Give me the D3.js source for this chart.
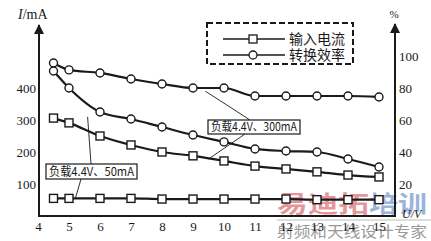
<!DOCTYPE html>
<html><head><meta charset="utf-8">
<script src="https://cdn.jsdelivr.net/npm/d3@7/dist/d3.min.js"></script>
<style>body{margin:0;background:#fff}svg{display:block}</style>
</head><body>
<script>
const voltages = [4.5,5,6,7,8,9,10,11,12,13,14,15];
const current300 = [306,291,250,222,200,188,172,156,147,138,128,122];
const current50  = [55,55,55,55,53,53,53,53,53,51,51,51];
const eff300 = [95.6,91.3,89.4,85.6,82.5,80,80,75,75,75,75,74.4];
const eff50  = [90.6,80,65,60.6,55.6,50.6,46.3,41.9,40.6,40,35.6,30.6];
const xTicks = [4,5,6,7,8,9,10,11,12,13,14,15];
const leftTicks = [100,200,300,400];
const rightTicks = [20,40,60,80,100];
const legendLabels = ["输入电流","转换效率"];
const annoLabels = ["负载4.4V、50mA","负载4.4V、300mA"];

const W=431,H=241;
const svg=d3.select("body").append("svg").attr("width",W).attr("height",H);
const ink="#1a1a1a";
const serif="'Liberation Serif','DejaVu Serif',serif";
const cjk="'Noto Sans CJK SC','Liberation Serif',serif";

const x=d3.scaleLinear().domain([4,15]).range([38,379]);
const yL=d3.scaleLinear().domain([0,500]).range([216,56]);
const yR=d3.scaleLinear().domain([0,100]).range([216,56]);

// watermark
svg.append("line").attr("x1",277).attr("x2",431).attr("y1",220).attr("y2",220).attr("stroke","#bbb").attr("stroke-width",1);
svg.append("text").attr("x",277).attr("y",212).attr("font-family",cjk).attr("font-weight","bold")
  .attr("font-size",23).attr("textLength",92).attr("lengthAdjust","spacingAndGlyphs").attr("fill","#e6969a").text("易迪拓");
svg.append("text").attr("x",369).attr("y",212).attr("font-family",cjk).attr("font-weight","bold")
  .attr("font-size",23).attr("textLength",58).attr("lengthAdjust","spacingAndGlyphs").attr("fill","#9bb4dc").text("培训");
svg.append("text").attr("x",277).attr("y",237).attr("font-family",cjk)
  .attr("font-size",15).attr("textLength",150).attr("lengthAdjust","spacingAndGlyphs").attr("fill","#999").text("射频和天线设计专家");

// axes
const defs=svg.append("defs");
defs.append("marker").attr("id","arr").attr("viewBox","0 0 10 10").attr("refX",9).attr("refY",5)
  .attr("markerWidth",5).attr("markerHeight",6).attr("orient","auto")
  .append("path").attr("d","M0,0L10,5L0,10Z").attr("fill",ink);
svg.append("line").attr("x1",39).attr("x2",39).attr("y1",217).attr("y2",25).attr("stroke",ink).attr("stroke-width",2).attr("marker-end","url(#arr)");
svg.append("line").attr("x1",395).attr("x2",395).attr("y1",217).attr("y2",24).attr("stroke",ink).attr("stroke-width",2).attr("marker-end","url(#arr)");
svg.append("line").attr("x1",38).attr("x2",396).attr("y1",216).attr("y2",216).attr("stroke",ink).attr("stroke-width",2.2);

const gx=svg.append("g").attr("transform","translate(0,216)")
  .call(d3.axisBottom(x).tickValues(xTicks).tickSize(0).tickPadding(6).tickFormat(d3.format("d")));
gx.select(".domain").remove();
gx.selectAll("text").attr("font-family",serif).attr("font-size",13).attr("fill",ink);

const gl=svg.append("g").attr("transform","translate(38,0)")
  .call(d3.axisLeft(yL).tickValues(leftTicks).tickSize(0).tickPadding(2));
gl.select(".domain").remove();
gl.selectAll("text").attr("font-family",serif).attr("font-size",13).attr("fill",ink);

const gr=svg.append("g").attr("transform","translate(396,0)")
  .call(d3.axisRight(yR).tickValues(rightTicks).tickSize(0).tickPadding(3));
gr.select(".domain").remove();
gr.selectAll("text").attr("font-family",serif).attr("font-size",13).attr("fill",ink);

// axis titles
const t1=svg.append("text").attr("x",18).attr("y",19).attr("font-family",serif).attr("font-size",14).attr("fill",ink);
t1.append("tspan").attr("font-style","italic").text("I");
t1.append("tspan").text("/mA");
svg.append("text").attr("x",394).attr("y",18).attr("text-anchor","middle").attr("font-family",serif).attr("font-size",11).attr("fill",ink).text("%");
svg.append("text").attr("x",402).attr("y",218).attr("font-family",serif).attr("font-size",12).attr("font-style","italic").attr("fill",ink).text("U/V");

// series
const line=(ys,yf)=>d3.line().x((d,i)=>x(voltages[i])).y(d=>yf(d)).curve(d3.curveMonotoneX)(ys);
const series=[
  {v:eff300,y:yR,m:"c"},{v:eff50,y:yR,m:"c"},{v:current300,y:yL,m:"s"},{v:current50,y:yL,m:"s"}];
series.forEach(s=>{
  svg.append("path").attr("d",line(s.v,s.y)).attr("fill","none").attr("stroke",ink).attr("stroke-width",2.2);
  const g=svg.append("g");
  s.v.forEach((d,i)=>{
    const cx=x(voltages[i]), cy=s.y(d);
    if(s.m==="c") g.append("circle").attr("cx",cx).attr("cy",cy).attr("r",4).attr("fill","#fff").attr("stroke",ink).attr("stroke-width",1.4);
    else g.append("rect").attr("x",cx-4).attr("y",cy-4).attr("width",8).attr("height",8).attr("fill","#fff").attr("stroke",ink).attr("stroke-width",1.4);
  });
});

// legend
svg.append("rect").attr("x",207).attr("y",23).attr("width",146).attr("height",41).attr("fill","none")
  .attr("stroke",ink).attr("stroke-width",2).attr("stroke-dasharray","6,3");
legendLabels.forEach((lab,i)=>{
  const yy=39+i*16;
  svg.append("line").attr("x1",223).attr("x2",285).attr("y1",yy).attr("y2",yy).attr("stroke",ink).attr("stroke-width",1.6);
  if(i===0) svg.append("rect").attr("x",249).attr("y",yy-4).attr("width",8).attr("height",8).attr("fill","#fff").attr("stroke",ink).attr("stroke-width",1.3);
  else svg.append("circle").attr("cx",253).attr("cy",yy).attr("r",4).attr("fill","#fff").attr("stroke",ink).attr("stroke-width",1.3);
  svg.append("text").attr("x",289).attr("y",yy+5).attr("font-family",cjk).attr("font-size",14).attr("fill",ink).text(lab);
});

// annotations
const annos=[
  {box:[46,164,91,15], up:[5.6,yR,62], upFrom:91, down:[5.2,yL,53], downFrom:81, t:annoLabels[0]},
  {box:[208,120,92,14], up:[9.4,yR,78], upFrom:250, down:[9.5,yL,178], downFrom:245, t:annoLabels[1]}];
annos.forEach(a=>{
  const [bx,by,bw,bh]=a.box;
  svg.append("line").attr("x1",a.upFrom).attr("y1",by).attr("x2",x(a.up[0])).attr("y2",a.up[1](a.up[2])).attr("stroke",ink).attr("stroke-width",0.9);
  svg.append("line").attr("x1",a.downFrom).attr("y1",by+bh).attr("x2",x(a.down[0])).attr("y2",a.down[1](a.down[2])).attr("stroke",ink).attr("stroke-width",0.9);
  svg.append("rect").attr("x",bx).attr("y",by).attr("width",bw).attr("height",bh).attr("fill","#fff").attr("stroke",ink).attr("stroke-width",1.2);
  svg.append("text").attr("x",bx+3).attr("y",by+bh-3).attr("font-family",cjk).attr("font-size",12)
    .attr("textLength",bw-6).attr("lengthAdjust","spacingAndGlyphs").attr("fill",ink).text(a.t);
});
</script>
</body></html>
